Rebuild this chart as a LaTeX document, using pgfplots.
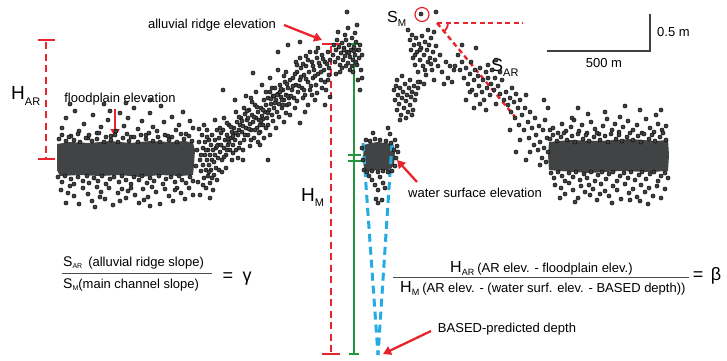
\documentclass[border=0pt]{standalone}
\usepackage{fontspec}
\setmainfont{Liberation Sans}
\usepackage{pgfplots}
\pgfplotsset{compat=1.18}
\usetikzlibrary{arrows.meta}
\definecolor{dotgray}{RGB}{66,67,69}
\definecolor{ared}{RGB}{232,36,44}
\definecolor{ablue}{RGB}{36,172,226}
\definecolor{agreen}{RGB}{38,150,62}
\newcommand{\fs}[1]{\fontsize{#1}{#1}\selectfont}
\begin{document}
\begin{tikzpicture}
\begin{axis}[
  scale only axis, width=727pt, height=360pt,
  xmin=0, xmax=727, ymin=0, ymax=360, y dir=reverse,
  hide axis, clip=false,
  dots/.style={only marks, mark=*, mark size=2.1pt, mark options={draw=none, fill=dotgray}},
]
% dense cores
\addplot[fill=dotgray, draw=none] coordinates {(57,144)(70,142)(90,143)(110,141)(130,143)(150,141)(170,142)(185,141)(193,143)(195,150)(194,165)(193,175)(180,176)(160,175)(140,177)(120,175)(100,176)(80,175)(60,176)(57,170)} --cycle;
\addplot[fill=dotgray, draw=none] coordinates {(549,142)(570,140)(600,141)(630,139)(655,141)(668,140)(669,155)(668,171)(650,172)(620,171)(590,173)(560,171)(549,170)(548,155)} --cycle;
\addplot[fill=dotgray, draw=none] coordinates {(364,145)(370,143)(378,142)(386,143)(393,144)(395,152)(394,165)(390,170)(380,170)(370,171)(364,169)(363,158)} --cycle;
% left floodplain scatter
\addplot[dots] coordinates {(62,128)(66,118)(71,136)(75,111)(79,131)(84,124)(88,138)(93,115)(97,133)(101,127)(104,104)(108,120)(111,136)(116,131)(120,113)(124,126)(128,118)(131,137)(134,108)(138,129)(142,121)(146,135)(150,113)(153,127)(157,131)(161,106)(164,122)(168,136)(172,117)(176,130)(179,125)(183,112)(186,134)(190,121)(193,128)(70,104)(150,100)(110,111)(126,103)
(59,139)(62,135)(66,141)(69,137)(74,140)(78,134)(80,142)(86,138)(89,135)(92,141)(97,139)(99,133)(104,142)(106,137)(111,140)(115,135)(118,142)(123,138)(127,134)(129,141)(134,137)(138,142)(141,135)(146,139)(149,133)(153,141)(158,137)(160,142)(165,135)(169,140)(172,137)(177,142)(181,134)(184,139)(189,136)(192,141)
(58,177)(62,182)(65,176)(71,179)(74,184)(78,177)(83,181)(87,176)(89,183)(94,178)(98,181)(102,176)(106,184)(110,179)(114,177)(119,182)(122,176)(126,180)(131,184)(134,177)(139,180)(142,176)(147,183)(150,178)(154,181)(159,176)(163,184)(166,179)(171,177)(175,182)(179,176)(182,180)(186,183)(190,177)(193,181)
(61,190)(66,203)(70,186)(74,196)(79,204)(83,188)(88,194)(92,201)(97,187)(101,192)(105,199)(109,188)(113,205)(118,193)(122,189)(126,198)(131,188)(135,195)(139,203)(143,189)(148,197)(152,187)(156,192)(160,204)(165,189)(169,196)(173,201)(177,188)(181,193)(185,199)(189,188)(193,195)(68,193)(95,207)(128,191)(150,206)(175,190)(100,197)(144,200)(120,201)};
% transition cluster
\addplot[dots] coordinates {(197,150)(199,142)(200,160)(201,171)(202,135)(203,148)(203,165)(204,178)(205,155)(205,142)(206,188)(206,170)(207,130)(207,160)(208,150)(208,176)(209,140)(209,165)(210,183)(210,155)(211,170)(211,145)(212,160)(212,135)(213,190)(213,150)(214,175)(214,162)(215,140)(215,155)(216,168)(216,148)(217,180)(217,130)(218,158)(198,182)(200,195)(204,125)(210,198)(196,166)(199,129)(215,120)(218,145)(219,170)(201,155)(206,150)(209,172)(212,178)(207,137)(203,185)};
% rising ridge
\addplot[dots] coordinates {(219,138)(220,152)(221,145)(222,160)(223,130)(224,148)(225,140)(226,155)(227,135)(228,145)(229,125)(230,150)(231,138)(232,132)(233,145)(234,128)(235,140)(236,150)(237,122)(238,135)(239,130)(240,143)(222,172)(226,168)(232,160)(238,158)(224,118)(236,112)(220,128)(229,142)(233,136)(227,150)(240,125)
(241,118)(242,132)(243,126)(244,140)(245,114)(246,128)(247,120)(248,135)(249,110)(250,124)(251,130)(252,115)(253,122)(254,138)(255,105)(256,118)(257,128)(258,112)(259,120)(260,132)(261,108)(262,116)(263,125)(264,100)(265,112)(243,150)(250,146)(258,142)(264,138)(246,96)(256,92)(262,85)(244,108)(252,102)(260,125)(248,118)(255,130)(263,119)
(266,105)(267,118)(268,98)(269,110)(270,92)(271,104)(272,115)(273,96)(274,108)(275,88)(276,100)(277,112)(278,94)(279,104)(280,85)(281,97)(282,108)(283,90)(284,100)(285,82)(286,95)(287,105)(288,88)(289,98)(290,80)(268,125)(276,128)(284,122)(290,115)(270,78)(278,70)(286,72)(272,88)(280,92)(288,96)(266,92)(274,96)(282,100)
(292,90)(293,78)(294,98)(296,85)(297,72)(298,92)(300,80)(301,68)(302,88)(304,75)(305,95)(306,66)(308,82)(309,72)(310,90)(312,62)(313,78)(314,70)(316,85)(317,58)(318,74)(320,66)(321,80)(322,55)(324,70)(325,62)(326,90)(328,52)(329,68)(330,60)(295,108)(305,112)(315,100)(325,105)(300,58)(310,52)(296,62)(318,48)(303,98)(312,95)(322,88)(308,105)(328,80)(330,97)
(223,90)(253,73)(278,52)(288,45)(300,42)(260,145)(268,160)(243,160)(300,123)(235,100)(270,135)
(217,146)(221,133)(224,157)(228,139)(231,127)(233,153)(236,133)(239,148)(242,121)(245,135)(247,111)(249,129)(251,140)(254,117)(257,107)(259,133)(261,121)(263,110)(266,128)(268,113)(271,99)(273,121)(275,103)(277,95)(279,117)(281,89)(283,105)(286,113)(287,84)(289,104)(291,96)(293,86)(295,74)(297,101)(299,86)(301,77)(303,64)(304,90)(306,79)(308,60)(311,86)(313,66)(315,76)(317,93)(319,63)(321,72)(323,59)(325,82)(327,64)(329,75)(316,52)(306,56)(251,98)(239,117)(227,123)(284,76)(297,65)};
% left peak
\addplot[dots] coordinates {(333,55)(334,45)(335,62)(336,50)(337,40)(338,58)(339,47)(340,65)(341,53)(342,43)(343,60)(344,48)(345,56)(346,40)(347,52)(348,63)(349,45)(350,57)(351,50)(352,38)(353,60)(354,47)(355,55)(356,42)(357,65)(358,50)(359,58)(360,45)(361,70)(362,55)(345,35)(355,33)(340,72)(350,70)(358,80)(360,90)(362,78)(338,32)(348,28)(357,25)(342,68)(336,74)(353,72)(346,66)(352,66)(356,62)(344,50)(349,53)(354,51)(359,50)(347,12)};
% water block
\addplot[dots] coordinates {(362,148)(363,160)(364,170)(366,140)(370,141)(375,139)(380,140)(386,141)(391,143)(394,150)(396,158)(395,166)(392,171)(388,172)(383,171)(378,172)(372,171)(367,172)(369,176)(372,180)(375,185)(378,190)(380,177)(383,183)(385,188)(376,199)(378,203)(382,200)(373,133)(388,128)(390,134)(395,140)(398,152)(397,146)};
% right bank
\addplot[dots] coordinates {(394,90)(395,100)(396,86)(397,110)(398,95)(399,104)(400,88)(401,115)(402,98)(403,92)(404,108)(405,84)(406,101)(407,95)(408,112)(409,88)(410,105)(411,97)(412,92)(413,110)(414,86)(415,100)(416,94)(418,88)(420,82)(397,80)(402,76)(410,80)(406,118)(400,120)(412,115)
(408,30)(410,40)(411,50)(412,35)(413,58)(414,45)(415,65)(416,38)(417,52)(418,72)(419,44)(420,60)(421,48)(422,36)(423,66)(424,55)(425,42)(426,75)(427,50)(428,62)(429,45)(430,58)(431,38)(432,70)(433,52)(434,80)(435,60)(436,46)(438,66)(440,55)(442,72)(444,84)(446,62)(448,78)(450,66)(452,82)(454,70)(418,82)(424,84)(428,30)(434,32)(421,14)(436,12)(425,70)(431,64)(415,55)(420,50)
(458,55)(460,70)(462,62)(464,78)(466,68)(468,84)(470,74)(471,62)(472,90)(474,80)(475,70)(476,95)(478,76)(479,86)(480,68)(482,92)(483,80)(484,100)(486,72)(487,88)(488,78)(490,95)(491,84)(492,70)(494,90)(495,78)(496,104)(498,86)(500,94)(502,80)(504,100)(466,100)(474,108)(486,110)(462,45)(476,48)(496,60)(500,72)(470,92)(480,104)(455,66)(488,65)
(506,92)(508,105)(510,98)(511,112)(512,88)(514,102)(515,118)(516,94)(518,108)(519,125)(520,100)(522,115)(524,130)(525,108)(526,95)(528,122)(529,138)(530,112)(532,128)(534,145)(535,118)(536,135)(538,150)(539,126)(540,142)(542,158)(543,130)(544,148)(546,162)(547,138)(548,152)(550,130)(510,130)(520,140)(516,152)(530,152)(526,160)(540,165)(545,120)(544,100)(548,108)};
% right floodplain scatter
\addplot[dots] coordinates {(553,128)(558,133)(562,124)(566,131)(571,127)(574,120)(579,131)(582,125)(587,133)(591,122)(595,129)(599,134)(603,126)(607,119)(612,130)(615,124)(619,132)(623,127)(628,121)(633,130)(637,125)(642,133)(646,119)(650,128)(654,132)(658,124)(662,130)(666,126)(572,118)(588,114)(605,112)(620,117)(640,110)(656,115)(625,106)(661,110)(578,108)
(561,188)(565,194)(569,183)(573,190)(578,198)(581,186)(585,192)(589,185)(593,189)(597,200)(601,184)(605,191)(609,196)(613,186)(617,190)(621,199)(625,184)(629,193)(633,189)(637,197)(641,185)(645,192)(649,188)(653,196)(657,186)(661,198)(665,189)(560,198)(575,202)(590,195)(612,203)(630,200)(648,204)(600,194)(640,201)(555,185)
(550,139)(553,135)(557,141)(561,137)(564,133)(567,140)(572,136)(575,142)(578,134)(583,139)(586,135)(589,141)(594,137)(597,133)(600,140)(605,136)(608,142)(611,134)(616,139)(619,135)(622,141)(627,137)(630,133)(633,140)(638,136)(641,142)(644,134)(649,139)(652,135)(655,141)(660,137)(663,133)(666,140)
(551,173)(554,178)(558,172)(562,176)(565,181)(569,173)(573,177)(576,172)(580,180)(584,174)(587,178)(591,172)(595,181)(598,175)(602,172)(606,179)(609,174)(613,172)(617,181)(620,176)(624,173)(628,178)(631,172)(635,180)(639,175)(642,172)(646,179)(650,174)(654,172)(658,181)(661,176)(665,173)(668,178)};
% red annotations
\addplot[ared, line width=2.6pt, dash pattern=on 7pt off 4.5pt] coordinates {(46,42)(46,159)};
\addplot[ared, line width=2.4pt] coordinates {(38,40)(55,40)};
\addplot[ared, line width=2.4pt] coordinates {(38,159)(55,159)};
\addplot[ared, line width=2.6pt, dash pattern=on 7pt off 4.5pt] coordinates {(331,46)(331,352)};
\addplot[ared, line width=2.4pt] coordinates {(322,44)(340,44)};
\addplot[ared, line width=2.4pt] coordinates {(322,354)(340,354)};
\addplot[ared, line width=2.4pt, dash pattern=on 5pt off 3.5pt] coordinates {(437,23)(523,23)};
\addplot[ared, line width=2.4pt, dash pattern=on 5pt off 3.5pt] coordinates {(437,23)(516,118)};
\addplot[ared, line width=1.8pt] coordinates {(448,23)(447.6,25.8)(446.5,28.5)(444.8,30.8)(444.1,31.4)};
% green
\addplot[agreen, line width=1.2pt] coordinates {(354,44)(354,354)};
\addplot[agreen, line width=1.2pt] coordinates {(348,44)(361,44)};
\addplot[agreen, line width=1.2pt] coordinates {(349,354)(359,354)};
\addplot[agreen, line width=1.2pt] coordinates {(348,155)(361,155)};
\addplot[agreen, line width=1.2pt] coordinates {(348,161)(361,161)};
% blue
\addplot[ablue, line width=3pt, dash pattern=on 8pt off 5pt] coordinates {(363,143)(378,355)};
\addplot[ablue, line width=3pt, dash pattern=on 8pt off 5pt] coordinates {(392,143)(378,355)};
% scale bar
\addplot[black!75, line width=1.3pt] coordinates {(547,51)(650,51)(650,14)};
% fraction lines
\addplot[black!70, line width=0.9pt] coordinates {(62,273)(212,273)};
\addplot[black!70, line width=0.9pt] coordinates {(393,277)(689,277)};
% arrows and circle
\draw[ared, line width=2.3pt, -{Triangle[length=8pt,width=9pt]}] (axis cs:115,109) -- (axis cs:115,137);
\draw[ared, line width=2.3pt, -{Triangle[length=8pt,width=9pt]}] (axis cs:284,25) -- (axis cs:322,40);
\draw[ared, line width=2.3pt, -{Triangle[length=8pt,width=9pt]}] (axis cs:417,182) -- (axis cs:397,160);
\draw[ared, line width=2.3pt, -{Triangle[length=8pt,width=9pt]}] (axis cs:431,331) -- (axis cs:383,354);
\draw[ared, line width=1.2pt] (axis cs:422,14.5) circle[radius=7pt];
% texts
\node[anchor=base, inner sep=0pt] at (axis cs:212,28) {\fs{13}alluvial ridge elevation};
\node[anchor=base, inner sep=0pt] at (axis cs:120,102) {\fs{13}floodplain elevation};
\node[anchor=base, inner sep=0pt] at (axis cs:475,197) {\fs{13}water surface elevation};
\node[anchor=base, inner sep=0pt] at (axis cs:507,332) {\fs{13}BASED-predicted depth};
\node[anchor=base west, inner sep=0pt] at (axis cs:657,36) {\fs{13}0.5 m};
\node[anchor=base, inner sep=0pt] at (axis cs:604,67) {\fs{13}500 m};
\node[anchor=base west, inner sep=0pt] at (axis cs:11,99) {\fs{19}H\raisebox{-6pt}{\fs{11}AR}};
\node[anchor=base west, inner sep=0pt] at (axis cs:301,201) {\fs{19}H\raisebox{-5pt}{\fs{11}M}};
\node[anchor=base west, inner sep=0pt] at (axis cs:387,22) {\fs{16}S\raisebox{-4pt}{\fs{10}M}};
\node[anchor=base west, inner sep=0pt] at (axis cs:491,71) {\fs{18}S\raisebox{-5pt}{\fs{11}AR}};
\node[anchor=base west, inner sep=0pt] at (axis cs:63,266) {\fs{14}S\raisebox{-2pt}{\fs{7}AR}\hspace{6pt}\fs{13}(alluvial ridge slope)};
\node[anchor=base west, inner sep=0pt] at (axis cs:63,288) {\fs{14}S\raisebox{-2pt}{\fs{7}M}\fs{13}(main channel slope)};
\node[inner sep=0pt] at (axis cs:228,277) {\fs{18}=};
\node[inner sep=0pt] at (axis cs:247,279) {\fs{18}γ};
\node[anchor=base west, inner sep=0pt] at (axis cs:450,272) {\fs{16}H\raisebox{-3pt}{\fs{9}AR}\hspace{3pt}\fs{13}(AR elev. - floodplain elev.)};
\node[anchor=base west, inner sep=0pt] at (axis cs:400,292) {\fs{16}H\raisebox{-3pt}{\fs{9}M}\hspace{3pt}\fs{13}(AR elev. - (water surf. elev. - BASED depth))};
\node[inner sep=0pt] at (axis cs:698,276) {\fs{18}=};
\node[inner sep=0pt] at (axis cs:716,276) {\fs{18}β};
\end{axis}
\pgfresetboundingbox
\path[use as bounding box] (current axis.south west) rectangle (current axis.north east);
\end{tikzpicture}
\end{document}
